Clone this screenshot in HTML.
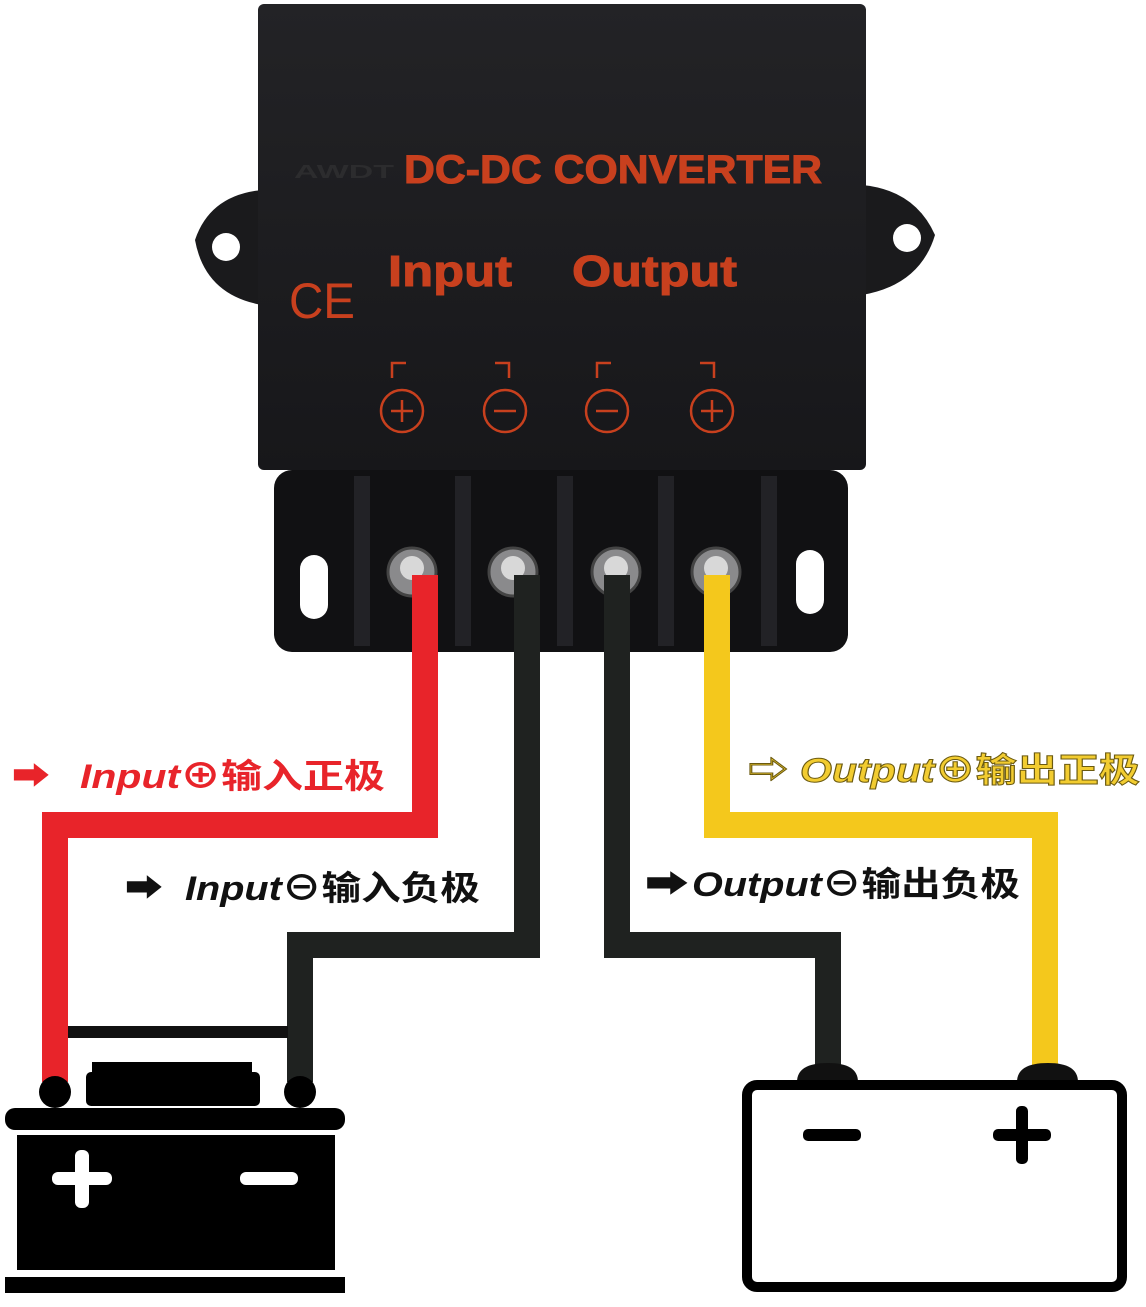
<!DOCTYPE html>
<html><head><meta charset="utf-8"><style>
html,body{margin:0;padding:0;background:#fff;}
svg{display:block;}
</style></head><body>
<svg width="1146" height="1307" viewBox="0 0 1146 1307" xmlns="http://www.w3.org/2000/svg">
<defs>
<linearGradient id="body" x1="0" y1="0" x2="0" y2="1">
<stop offset="0" stop-color="#232326"/><stop offset="1" stop-color="#17171a"/>
</linearGradient>
</defs>
<rect width="1146" height="1307" fill="#fff"/>
<path d="M262 190 Q210 195 195 240 Q205 295 262 305 Z" fill="#1a1a1c"/>
<circle cx="226" cy="247" r="14" fill="#fff"/>
<path d="M862 185 Q915 190 935 235 Q920 285 862 295 Z" fill="#1a1a1c"/>
<circle cx="907" cy="238" r="14" fill="#fff"/>
<rect x="274" y="470" width="574" height="182" rx="18" fill="#111113"/>
<rect x="300" y="555" width="28" height="64" rx="14" fill="#fff"/>
<rect x="796" y="550" width="28" height="64" rx="14" fill="#fff"/>
<g fill="#222226">
<rect x="354" y="476" width="16" height="170"/><rect x="455" y="476" width="16" height="170"/>
<rect x="557" y="476" width="16" height="170"/><rect x="658" y="476" width="16" height="170"/>
<rect x="761" y="476" width="16" height="170"/>
</g>
<g fill="#8a8a8c" stroke="#444" stroke-width="3">
<circle cx="412" cy="572" r="24"/><circle cx="513" cy="572" r="24"/>
<circle cx="616" cy="572" r="24"/><circle cx="716" cy="572" r="24"/>
</g>
<g fill="#d8d8d8">
<circle cx="412" cy="568" r="12"/><circle cx="513" cy="568" r="12"/>
<circle cx="616" cy="568" r="12"/><circle cx="716" cy="568" r="12"/>
</g>
<rect x="258" y="4" width="608" height="466" rx="6" fill="url(#body)"/>
<g font-family="Liberation Sans, sans-serif" font-weight="bold" fill="#c8401e">
<text x="294" y="178" font-size="18" fill="#2c2c2e" textLength="100" lengthAdjust="spacingAndGlyphs">AWDT</text>
<text x="404" y="183" font-size="40" stroke="#c8401e" stroke-width="1" textLength="418" lengthAdjust="spacingAndGlyphs">DC-DC CONVERTER</text>
<text x="388" y="286" font-size="44" stroke="#c8401e" stroke-width="1" textLength="124" lengthAdjust="spacingAndGlyphs">Input</text>
<text x="572" y="286" font-size="44" stroke="#c8401e" stroke-width="1" textLength="165" lengthAdjust="spacingAndGlyphs">Output</text>
<text x="289" y="318" font-size="50" font-weight="normal" textLength="66" lengthAdjust="spacingAndGlyphs">CE</text>
</g>
<g stroke="#c8401e" stroke-width="2.5" fill="none">
<circle cx="402" cy="411" r="21"/><circle cx="505" cy="411" r="21"/>
<circle cx="607" cy="411" r="21"/><circle cx="712" cy="411" r="21"/>
<path d="M391 411h22M402 400v22M494 411h22M596 411h22M701 411h22M712 400v22"/>
<path d="M392 378v-15h14M495 363h14v15M597 378v-15h14M700 363h14v15"/>
</g>
<g fill="none" stroke-linejoin="miter">
<path d="M425 575 V825 H55 V1082" stroke="#e8242a" stroke-width="26"/>
<path d="M527 575 V945 H300 V1082" stroke="#1f2220" stroke-width="26"/>
<path d="M617 575 V945 H828 V1070" stroke="#1f2220" stroke-width="26"/>
<path d="M717 575 V825 H1045 V1070" stroke="#f4c81c" stroke-width="26"/>
</g>
<rect x="68" y="1026" width="220" height="12" fill="#111"/>
<circle cx="55" cy="1092" r="16" fill="#000"/>
<circle cx="300" cy="1092" r="16" fill="#000"/>
<rect x="92" y="1062" width="160" height="14" fill="#000"/>
<rect x="86" y="1072" width="174" height="34" rx="5" fill="#000"/>
<rect x="5" y="1108" width="340" height="22" rx="10" fill="#000"/>
<rect x="17" y="1135" width="318" height="135" fill="#000"/>
<rect x="5" y="1277" width="340" height="16" fill="#000"/>
<g fill="#fff">
<rect x="52" y="1172" width="60" height="13" rx="6"/><rect x="75" y="1150" width="14" height="58" rx="6"/>
<rect x="240" y="1172" width="58" height="13" rx="6"/>
</g>
<path d="M797 1082 Q797 1063 828 1063 Q858 1063 858 1082 Z" fill="#111"/>
<path d="M1017 1082 Q1017 1063 1048 1063 Q1078 1063 1078 1082 Z" fill="#111"/>
<rect x="747" y="1085" width="375" height="202" rx="10" fill="#fff" stroke="#000" stroke-width="10"/>
<g fill="#000">
<rect x="803" y="1129" width="58" height="12" rx="5"/>
<rect x="993" y="1129" width="58" height="12" rx="5"/><rect x="1016" y="1106" width="12" height="58" rx="5"/>
</g>
<g font-family="Liberation Sans, 'Noto Sans CJK SC', sans-serif" font-weight="bold" font-size="34">
<text x="12" y="788" fill="#e8242a" textLength="38" lengthAdjust="spacingAndGlyphs">➡</text>
<text x="80" y="788" fill="#e8242a" textLength="305" lengthAdjust="spacingAndGlyphs"><tspan font-style="italic">Input</tspan>⊕输入正极</text>
<text x="125" y="900" fill="#111" textLength="38" lengthAdjust="spacingAndGlyphs">➡</text>
<text x="185" y="900" fill="#111" textLength="295" lengthAdjust="spacingAndGlyphs"><tspan font-style="italic">Input</tspan>⊖输入负极</text>
<text x="748" y="782" fill="#f2cc30" stroke="#6b5a10" stroke-width="1" textLength="40" lengthAdjust="spacingAndGlyphs">⇨</text>
<text x="800" y="782" fill="#f2cc30" stroke="#6b5a10" stroke-width="1" textLength="340" lengthAdjust="spacingAndGlyphs"><tspan font-style="italic">Output</tspan>⊕输出正极</text>
<text x="645" y="896" fill="#111" textLength="44" lengthAdjust="spacingAndGlyphs">➡</text>
<text x="692" y="896" fill="#111" textLength="328" lengthAdjust="spacingAndGlyphs"><tspan font-style="italic">Output</tspan>⊖输出负极</text>
</g>
</svg>
</body></html>
